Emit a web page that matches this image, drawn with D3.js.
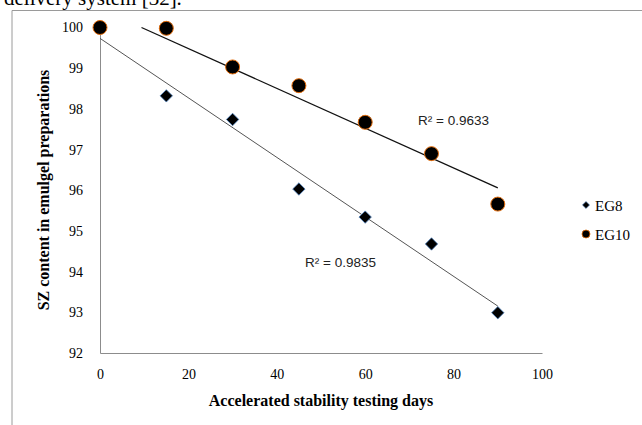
<!DOCTYPE html>
<html>
<head>
<meta charset="utf-8">
<script src="https://cdn.jsdelivr.net/npm/d3@7"></script>
<style>
  html, body { margin: 0; padding: 0; background: #fff; }
  svg { display: block; }
  .axis path { stroke: #8c8c8c; }
</style>
</head>
<body>
<svg id="vis"></svg>
<script>
const width = 642;
const height = 425;
const serif = '"Liberation Serif", "Times New Roman", serif';

// data
const days = [0, 15, 30, 45, 60, 75, 90];
const eg8 = [100, 98.32, 97.74, 96.03, 95.34, 94.68, 92.99];
const eg10 = [100, 99.98, 99.03, 98.57, 97.67, 96.9, 95.66];
const xTicks = [0, 20, 40, 60, 80, 100];
const yTicks = [92, 93, 94, 95, 96, 97, 98, 99, 100];
const seriesNames = ['EG8', 'EG10'];
const r2Labels = ['R\u00B2 = 0.9835', 'R\u00B2 = 0.9633'];

const svg = d3.select('#vis').attr('width', width).attr('height', height);

// caption line cut off at the top of the crop
svg.append('text')
  .attr('x', 4).attr('y', 5)
  .style('font-family', serif)
  .style('font-size', '21px')
  .text('delivery system [32].');

// outer frame (cropped on right and bottom)
svg.append('path')
  .attr('d', `M12,${height} V10.5 H${width}`)
  .attr('fill', 'none').attr('stroke', '#9a9a9a').attr('stroke-width', 1);

const xScale = d3.scaleLinear().domain([0, 100]).range([100, 542]);
const yScale = d3.scaleLinear().domain([92, 100]).range([353, 27.5]);

const xAxis = svg.append('g').attr('class', 'axis')
  .attr('transform', 'translate(0,353)')
  .call(d3.axisBottom(xScale).tickValues(xTicks).tickSize(0).tickPadding(16));
const yAxis = svg.append('g').attr('class', 'axis')
  .attr('transform', 'translate(100,0)')
  .call(d3.axisLeft(yScale).tickValues(yTicks).tickSize(0).tickPadding(17));
svg.selectAll('.axis').attr('font-family', null).attr('font-size', null);
svg.selectAll('.axis text')
  .style('font-family', serif).style('font-size', '14px').attr('fill', '#000');

// axis titles
svg.append('text')
  .attr('x', 321).attr('y', 406)
  .attr('text-anchor', 'middle')
  .style('font-family', serif)
  .style('font-size', '16px').style('font-weight', 'bold')
  .text('Accelerated  stability testing days');
svg.append('text')
  .attr('transform', 'translate(49,190) rotate(-90)')
  .attr('text-anchor', 'middle')
  .style('font-family', serif)
  .style('font-size', '16px').style('font-weight', 'bold')
  .text('SZ content in emulgel preparations');

// least squares trendline, clipped to the plot area like Excel does
function trend(xs, ys) {
  const mx = d3.mean(xs), my = d3.mean(ys);
  const sxy = d3.sum(xs, (x, i) => (x - mx) * (ys[i] - my));
  const sxx = d3.sum(xs, x => (x - mx) * (x - mx));
  const slope = sxy / sxx;
  const icpt = my - slope * mx;
  const yMax = yScale.domain()[1];
  let x0 = d3.min(xs);
  if (icpt + slope * x0 > yMax) x0 = (yMax - icpt) / slope;
  const x1 = d3.max(xs);
  return [[x0, icpt + slope * x0], [x1, icpt + slope * x1]];
}

const line = d3.line().x(d => xScale(d[0])).y(d => yScale(d[1]));
svg.append('path').datum(trend(days, eg8))
  .attr('d', line).attr('fill', 'none').attr('stroke', '#555').attr('stroke-width', 1);
svg.append('path').datum(trend(days, eg10))
  .attr('d', line).attr('fill', 'none').attr('stroke', '#111').attr('stroke-width', 1.3);

// EG8 diamonds
svg.append('g').selectAll('path')
  .data(days.map((d, i) => [d, eg8[i]]))
  .join('path')
  .attr('transform', d => `translate(${xScale(d[0])},${yScale(d[1])})`)
  .attr('d', d3.symbol().type(d3.symbolDiamond2).size(98))
  .attr('fill', '#000').attr('stroke', '#4f81bd').attr('stroke-width', 0.8);

// EG10 circles
svg.append('g').selectAll('circle')
  .data(days.map((d, i) => [d, eg10[i]]))
  .join('circle')
  .attr('cx', d => xScale(d[0])).attr('cy', d => yScale(d[1]))
  .attr('r', 7)
  .attr('fill', '#000').attr('stroke', '#e46c0a').attr('stroke-width', 1);

// R² labels
const r2Pos = [[305, 267], [418, 125]];
svg.append('g').selectAll('text')
  .data(r2Labels)
  .join('text')
  .attr('x', (d, i) => r2Pos[i][0]).attr('y', (d, i) => r2Pos[i][1])
  .style('font-family', '"Liberation Sans", sans-serif')
  .style('font-size', '13.5px').attr('fill', '#222')
  .text(d => d);

// legend
const legend = svg.append('g').attr('transform', 'translate(586,205)');
const items = legend.selectAll('g').data(seriesNames).join('g')
  .attr('transform', (d, i) => `translate(0,${i * 29})`);
items.filter((d, i) => i === 0).append('path')
  .attr('d', d3.symbol().type(d3.symbolDiamond2).size(32))
  .attr('fill', '#000').attr('stroke', '#4f81bd').attr('stroke-width', 0.6);
items.filter((d, i) => i === 1).append('circle')
  .attr('r', 4).attr('fill', '#000').attr('stroke', '#e46c0a').attr('stroke-width', 0.8);
items.append('text')
  .attr('x', 9).attr('y', 5.5)
  .style('font-family', serif)
  .style('font-size', '15px')
  .text(d => d);
</script>
</body>
</html>
